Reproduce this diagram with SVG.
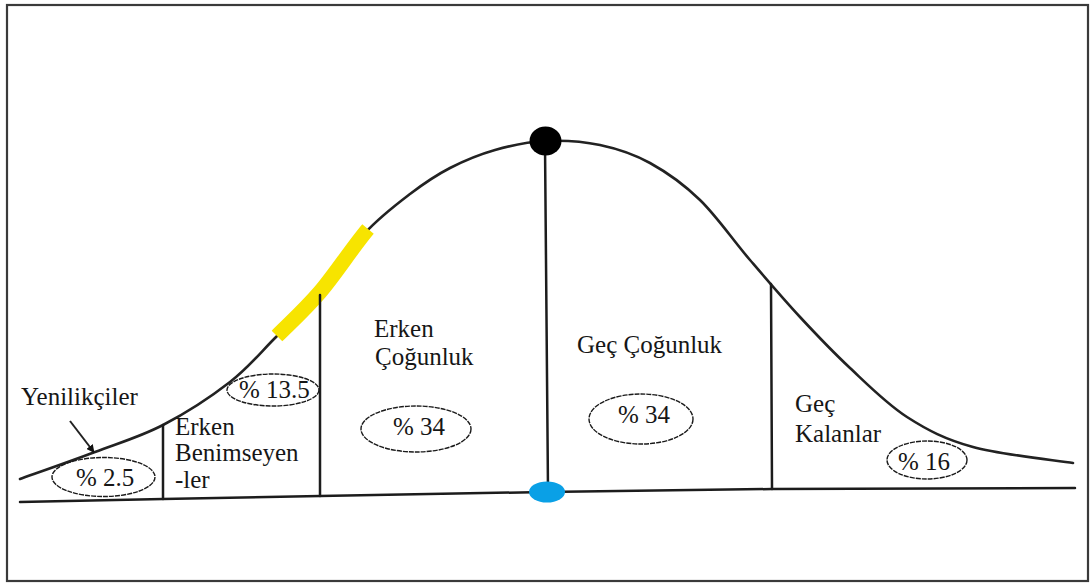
<svg xmlns="http://www.w3.org/2000/svg" width="1092" height="585" viewBox="0 0 1092 585">
  <defs>
    <style>
      .lbl { font-family: "Liberation Serif", "Times New Roman", serif; font-size: 25px; fill: #161616; }
      .oval { fill: none; stroke: #1a1a1a; stroke-width: 1.4; stroke-dasharray: 5 1; }
      .line { fill: none; stroke: #1c1c1c; stroke-width: 2.5; stroke-linecap: round; }
      .curve { fill: none; stroke: #222; stroke-width: 2.6; stroke-linecap: round; }
    </style>
    <marker id="dot" viewBox="0 0 10 10" refX="7" refY="5" markerWidth="4" markerHeight="4" orient="auto">
      <path d="M0,0 L10,5 L0,10 z" fill="#111"/>
    </marker>
  </defs>

  <rect x="0" y="0" width="1092" height="585" fill="#fff"/>
  <rect x="7" y="5" width="1081" height="576" fill="none" stroke="#3a3a3a" stroke-width="2.2"/>

  <g id="axis">
    <polyline class="line" points="20,502 163,499 320,496 545,492 772,489 1075,488"/>
  </g>

  <g id="curve">
    <path class="curve" d="M20,479 C32.5,474.5 71.2,461 95,452 C118.8,443 140.5,436.7 163,425 C185.5,413.3 211.3,396.5 230,382 C248.7,367.5 260,353 275,338 C290,323 305,309.5 320,292 C335,274.5 350,249.3 365,233 C380,216.7 395.8,204.8 410,194 C424.2,183.2 435.8,175.3 450,168 C464.2,160.7 479.2,154.5 495,150 C510.8,145.5 527.5,141.8 545,141 C562.5,140.2 582.5,141.3 600,145 C617.5,148.7 633.3,153.8 650,163 C666.7,172.2 683.3,183.8 700,200 C716.7,216.2 733.3,240.5 750,260 C766.7,279.5 783.3,299 800,317 C816.7,335 832.2,351.3 850,368 C867.8,384.7 886.5,403.8 907,417 C927.5,430.2 945.3,439.3 973,447 C1000.7,454.7 1056.3,460.3 1073,463"/>
    <path d="M277,336 C290,323 305,309.5 320,292 C335,274.5 352,248 368,229" fill="none" stroke="#f7e400" stroke-width="15" stroke-linecap="butt"/>
  </g>

  <g id="dividers">
    <line class="line" x1="163" y1="425" x2="163" y2="499"/>
    <line class="line" x1="320" y1="295" x2="320" y2="496"/>
    <line class="line" x1="545" y1="145" x2="548" y2="490"/>
    <line class="line" x1="771" y1="284" x2="772" y2="489"/>
  </g>

  <g id="peak">
    <ellipse cx="545.5" cy="141" rx="16" ry="14.5" fill="#000"/>
  </g>
  <g id="mean">
    <ellipse cx="547" cy="492" rx="18" ry="10.5" fill="#0aa0e6"/>
  </g>

  <g id="connectors">
    <line x1="70" y1="421" x2="93" y2="451" stroke="#222" stroke-width="2" marker-end="url(#dot)"/>
  </g>

  <g id="yenilikciler">
    <text class="lbl" x="21" y="405">Yenilikçiler</text>
    <ellipse class="oval" cx="103.5" cy="477" rx="51.5" ry="19.5"/>
    <text class="lbl" x="76" y="486">% 2.5</text>
  </g>

  <g id="erken-benimseyenler">
    <text class="lbl" x="175" y="435">Erken</text>
    <text class="lbl" x="175" y="461">Benimseyen</text>
    <text class="lbl" x="175" y="488">-ler</text>
    <ellipse class="oval" cx="273" cy="390" rx="46" ry="16"/>
    <text class="lbl" x="239" y="398">% 13.5</text>
  </g>

  <g id="erken-cogunluk">
    <text class="lbl" x="374" y="337">Erken</text>
    <text class="lbl" x="375" y="365">Çoğunluk</text>
    <ellipse class="oval" cx="416" cy="429" rx="55" ry="23"/>
    <text class="lbl" x="393" y="435">% 34</text>
  </g>

  <g id="gec-cogunluk">
    <text class="lbl" x="577" y="353">Geç Çoğunluk</text>
    <ellipse class="oval" cx="641" cy="419" rx="52" ry="25"/>
    <text class="lbl" x="618" y="423">% 34</text>
  </g>

  <g id="gec-kalanlar">
    <text class="lbl" x="795" y="412">Geç</text>
    <text class="lbl" x="795" y="442">Kalanlar</text>
    <ellipse class="oval" cx="927" cy="460" rx="40" ry="19"/>
    <text class="lbl" x="898" y="470">% 16</text>
  </g>
</svg>
